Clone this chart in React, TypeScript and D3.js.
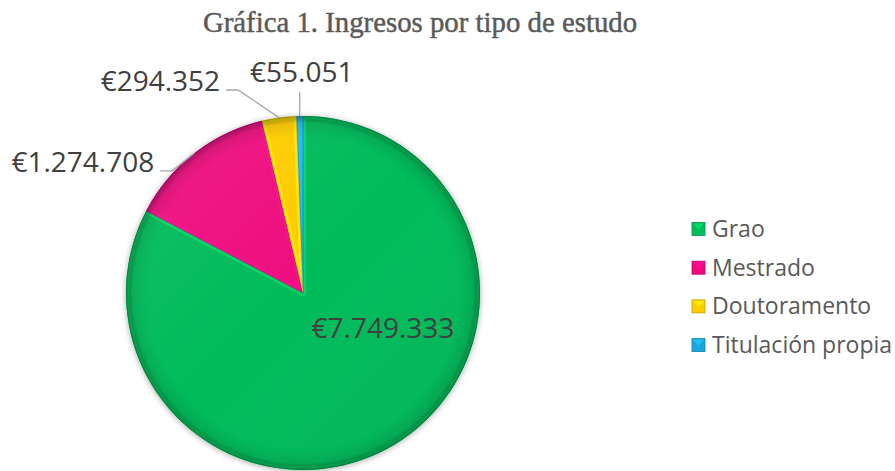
import React from "react";
import * as d3 from "d3";

const categories = ["Grao", "Mestrado", "Doutoramento", "Titulación propia"];
const values = [7749333, 1274708, 294352, 55051];
const colors = ["#06BB5A", "#EE0A7E", "#FFCC00", "#1BA5DF"];
const title = "Gráfica 1. Ingresos por tipo de estudo";

const W = 895;
const H = 471;
const cx = 303;
const cy = 293;
const R = 177;

const locale = d3.formatLocale({
  decimal: ",",
  thousands: ".",
  grouping: [3],
  currency: ["€", ""],
});
const fmt = locale.format("$,");

// label layout: type and offsets
const labelLayout = [
  { kind: "inside", dx: 80, dy: 45 },
  { kind: "elbow", ex: -22, ey: 17.5, hx: -12 },
  { kind: "elbow", ex: -41, ey: -27.6, hx: -12 },
  { kind: "vertical", ey: -24 },
];

export default function App() {
  const pie = d3
    .pie<number>()
    .sort(null)
    .value((d) => d)
    .startAngle(0)
    .endAngle(2 * Math.PI);
  const arcs = pie(values);
  const arc = d3.arc<d3.PieArcDatum<number>>().innerRadius(0).outerRadius(R);

  const labelColor = "#404040";
  const lineColor = "#A6A6A6";

  return (
    <svg
      width={W}
      height={H}
      style={{ position: "absolute", left: 0, top: 0, background: "#fff" }}
    >
      <defs>
        <filter id="shadow" x="-20%" y="-20%" width="140%" height="140%">
          <feGaussianBlur in="SourceAlpha" stdDeviation="3" />
          <feOffset dx="0" dy="1" result="b" />
          <feComponentTransfer>
            <feFuncA type="linear" slope="0.35" />
          </feComponentTransfer>
          <feMerge>
            <feMergeNode />
            <feMergeNode in="SourceGraphic" />
          </feMerge>
        </filter>
        <radialGradient id="rim" cx="0.5" cy="0.5" r="0.5">
          <stop offset="0.88" stopColor="#000" stopOpacity="0" />
          <stop offset="0.96" stopColor="#000" stopOpacity="0.08" />
          <stop offset="1" stopColor="#000" stopOpacity="0.35" />
        </radialGradient>
        <linearGradient id="light" x1="0" y1="0" x2="1" y2="1">
          <stop offset="0" stopColor="#fff" stopOpacity="0.08" />
          <stop offset="0.5" stopColor="#fff" stopOpacity="0" />
          <stop offset="1" stopColor="#000" stopOpacity="0.07" />
        </linearGradient>
        {arcs.map((a, i) => (
          <clipPath id={`clip${i}`} key={i}>
            <path d={arc(a) || ""} transform={`translate(${cx},${cy})`} />
          </clipPath>
        ))}
      </defs>

      <text
        x={420}
        y={32}
        textAnchor="middle"
        fontFamily="'Liberation Serif', serif"
        fontSize={28.8}
        fill="#595959"
        stroke="#595959"
        strokeWidth={0.45}
      >
        {title}
      </text>

      <g filter="url(#shadow)">
        <g transform={`translate(${cx},${cy})`}>
          {arcs.map((a, i) => (
            <path key={i} d={arc(a) || ""} fill={colors[i]} />
          ))}
        </g>
      </g>
      {arcs.map((a, i) => (
        <g key={i} clipPath={`url(#clip${i})`}>
          <path
            d={arc(a) || ""}
            transform={`translate(${cx},${cy})`}
            fill="none"
            stroke={d3.color(colors[i])!.brighter(0.6).formatHex()}
            strokeOpacity={0.6}
            strokeWidth={6}
            strokeLinejoin="round"
          />
          <path
            d={arc(a) || ""}
            transform={`translate(${cx},${cy})`}
            fill="none"
            stroke={d3.color(colors[i])!.darker(0.6).formatHex()}
            strokeOpacity={0.55}
            strokeWidth={1.5}
          />
        </g>
      ))}
      <circle cx={cx} cy={cy} r={R} fill="url(#light)" />
      <circle cx={cx} cy={cy} r={R} fill="url(#rim)" />

      {arcs.map((a, i) => {
        const L = labelLayout[i];
        const mid = (a.startAngle + a.endAngle) / 2;
        const text = fmt(values[i]);
        const common = {
          fontFamily: "'Open Sans', sans-serif",
          fontSize: 28,
          fill: labelColor,
        };
        if (L.kind === "inside") {
          return (
            <text key={i} x={cx + L.dx!} y={cy + L.dy!} textAnchor="middle" {...common}>
              {text}
            </text>
          );
        }
        const px = cx + Math.sin(mid) * R;
        const py = cy - Math.cos(mid) * R;
        if (L.kind === "vertical") {
          const ey = py + L.ey!;
          return (
            <g key={i}>
              <line x1={px} y1={py} x2={px} y2={ey} stroke={lineColor} strokeWidth={1.3} />
              <text x={px + 2} y={ey - 10} textAnchor="middle" {...common}>
                {text}
              </text>
            </g>
          );
        }
        const ex = px + L.ex!;
        const ey = py + L.ey!;
        const hx = ex + L.hx!;
        return (
          <g key={i}>
            <polyline
              points={`${px},${py} ${ex},${ey} ${hx},${ey}`}
              fill="none"
              stroke={lineColor}
              strokeWidth={1.3}
            />
            <text x={hx - 6} y={ey + 1} textAnchor="end" {...common}>
              {text}
            </text>
          </g>
        );
      })}

      <g>
        {categories.map((c, i) => {
          const yc = 229 + i * 38.7;
          const x0 = 692;
          const s = 13;
          const col = colors[i];
          const light = d3.color(col)!.brighter(0.5).formatHex();
          const dark = d3.color(col)!.darker(0.7).formatHex();
          return (
            <g key={c}>
              <rect x={x0} y={yc - s / 2} width={s} height={s} fill={col} stroke={dark} strokeWidth={0.8} />
              <path
                d={`M${x0 + 1},${yc - s / 2 + 1} L${x0 + s - 1},${yc - s / 2 + 1} L${x0 + s / 2},${yc + 1} Z`}
                fill={light}
                opacity={0.8}
              />
              <text
                x={712}
                y={yc + 8}
                fontFamily="'Open Sans', sans-serif"
                fontSize={23}
                fill="#595959"
              >
                {c}
              </text>
            </g>
          );
        })}
      </g>
    </svg>
  );
}
